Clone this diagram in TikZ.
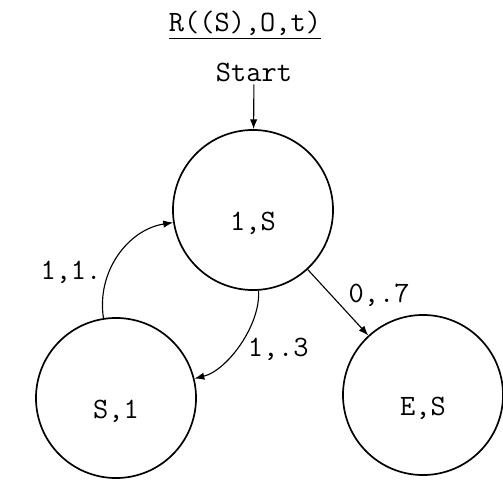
\documentclass[tikz,border=0pt]{standalone}
\usetikzlibrary{positioning}
\usetikzlibrary{arrows.meta}
\tikzset{
    state/.style={draw, circle, line width=1.2pt, minimum size=4cm,
        text height=1cm, text depth=0pt},
    lbl/.style={font=\ttfamily\fontsize{21}{24}\selectfont, inner sep=2pt}
}

\begin{document}
\begin{tikzpicture}[x=0.025cm, y=0.025cm, >={Latex[length=7pt]}]
    \useasboundingbox (0, 0) rectangle (503, 480);

    % Title and start marker
    \node[lbl] (title) at (245, 455) {\underline{R((S),O,t)}};
    \node[lbl] (start) at (254, 408) {Start};

    % States
    \node[state, lbl, minimum size=4cm] (s1s) at (253, 270) {1,S};
    \node[state, lbl, minimum size=4cm] (ss1) at (116, 82) {S,1};
    \node[state, lbl, minimum size=4cm] (ses) at (423, 85) {E,S};

    % Transitions
    \draw[->, thick] (start) -- (s1s);
    \draw[->, thick] (s1s) -- node[lbl, pos=0.62, anchor=south west] {0,.7} (ses);
    \draw[->, thick] (s1s) to[bend left=40, looseness=0.8]
        node[lbl, pos=0.55, right=6pt] {1,.3} (ss1);
    \draw[->, thick] (ss1) to[bend left=45]
        node[lbl, pos=0.35, left=3pt] {1,1.} (s1s);
\end{tikzpicture}
\end{document}
